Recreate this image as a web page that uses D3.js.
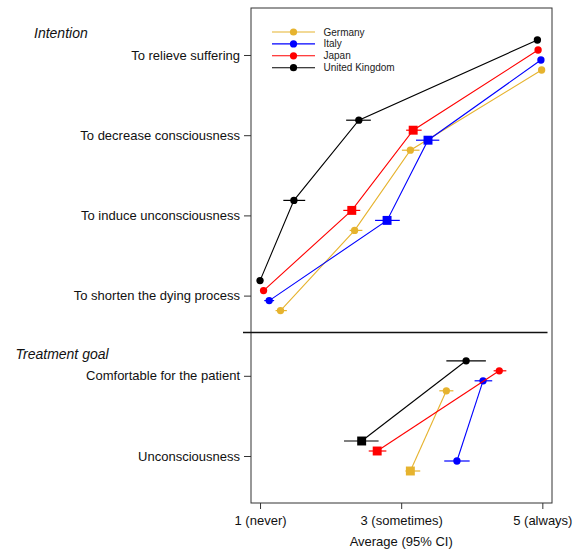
<!DOCTYPE html>
<html>
<head>
<meta charset="utf-8">
<script src="https://cdn.jsdelivr.net/npm/d3@7"></script>
<style>
  body { margin: 0; background: #fff; }
  svg { font-family: "Liberation Sans", Arial, sans-serif; }
</style>
</head>
<body>
<svg id="chart" width="581" height="553"></svg>
<script>
// Categories, top to bottom
const categories = [
  "To relieve suffering",
  "To decrease consciousness",
  "To induce unconsciousness",
  "To shorten the dying process",
  "Comfortable for the patient",
  "Unconsciousness"
];
const sections = [
  { label: "Intention", from: 0, to: 3 },
  { label: "Treatment goal", from: 4, to: 5 }
];

const countries = ["Germany", "Italy", "Japan", "United Kingdom"];
const colors = ["#E6B32E", "#0000FF", "#FF0000", "#000000"];

// Averages and 95% CI, one entry per category
const germanyMean = [4.99, 3.13, 2.34, 1.29, 3.64, 3.13];
const germanyLow  = [4.97, 3.01, 2.27, 1.22, 3.54, 3.06];
const germanyHigh = [5.01, 3.26, 2.45, 1.38, 3.74, 3.27];

const italyMean = [4.98, 3.38, 2.80, 1.13, 4.16, 3.79];
const italyLow  = [4.96, 3.21, 2.63, 1.06, 4.04, 3.61];
const italyHigh = [5.00, 3.54, 2.98, 1.20, 4.29, 3.97];

const japanMean = [4.94, 3.17, 2.30, 1.05, 4.39, 2.66];
const japanLow  = [4.92, 3.07, 2.18, 1.02, 4.31, 2.54];
const japanHigh = [4.96, 3.29, 2.42, 1.08, 4.49, 2.79];

const ukMean = [4.93, 2.40, 1.48, 1.00, 3.92, 2.44];
const ukLow  = [4.91, 2.22, 1.33, 0.98, 3.64, 2.19];
const ukHigh = [4.95, 2.57, 1.64, 1.02, 4.20, 2.68];

// Marker shape per point ("s" = square, "c" = circle)
const germanyShape = ["c", "c", "c", "c", "c", "s"];
const italyShape   = ["c", "s", "s", "c", "c", "c"];
const japanShape   = ["c", "s", "s", "c", "c", "s"];
const ukShape      = ["c", "c", "c", "c", "c", "s"];

const xTicks = [1, 3, 5];
const xTickLabels = ["1 (never)", "3 (sometimes)", "5 (always)"];

const series = [
  { mean: germanyMean, low: germanyLow, high: germanyHigh, shape: germanyShape },
  { mean: italyMean, low: italyLow, high: italyHigh, shape: italyShape },
  { mean: japanMean, low: japanLow, high: japanHigh, shape: japanShape },
  { mean: ukMean, low: ukLow, high: ukHigh, shape: ukShape }
].map((s, j) => ({
  ...s,
  country: countries[j],
  color: colors[j],
  points: categories.map((c, i) => ({
    cat: c, i, mean: s.mean[i], low: s.low[i], high: s.high[i], shape: s.shape[i]
  }))
}));

/*****************/
/*  Dimensions   */
/*****************/
const box = { left: 251, right: 552, top: 8, bottom: 503 };
const svg = d3.select("#chart");

const xScale = d3.scaleLinear().domain([0.872, 5.137]).range([box.left, box.right]);
const yScale = d3.scalePoint().domain(categories).range([box.top, box.bottom]).padding(0.586);

// vertical dodge between countries, px
const dodge = j => (1.5 - j) * 10;

/*****************/
/*  Axes & box   */
/*****************/
svg.append("rect")
  .attr("x", box.left).attr("y", box.top)
  .attr("width", box.right - box.left).attr("height", box.bottom - box.top)
  .attr("fill", "none").attr("stroke", "#333").attr("stroke-width", 1);

const yAxis = svg.append("g")
  .attr("transform", `translate(${box.left},0)`)
  .call(d3.axisLeft(yScale).tickSize(7).tickPadding(4));
yAxis.select(".domain").remove();
yAxis.selectAll(".tick line").attr("stroke", "#333");
yAxis.selectAll(".tick text")
  .attr("font-size", 13).attr("fill", "#111")
  .attr("font-family", "Liberation Sans, Arial, sans-serif");

const xAxis = svg.append("g")
  .attr("transform", `translate(0,${box.bottom})`)
  .call(d3.axisBottom(xScale).tickValues(xTicks)
    .tickFormat((d, i) => xTickLabels[i]).tickSize(6).tickPadding(7));
xAxis.select(".domain").remove();
xAxis.selectAll(".tick line").attr("stroke", "#333");
xAxis.selectAll(".tick text")
  .attr("font-size", 13).attr("fill", "#111")
  .attr("font-family", "Liberation Sans, Arial, sans-serif");

svg.append("text")
  .attr("x", xScale(3)).attr("y", 546)
  .attr("text-anchor", "middle")
  .attr("font-size", 13).attr("fill", "#111")
  .text("Average (95% CI)");

// divider between the two sections
const step = yScale.step();
const divY = yScale(categories[3]) + step * 0.46;
svg.append("line")
  .attr("x1", 243).attr("x2", 547.5)
  .attr("y1", divY).attr("y2", divY)
  .attr("stroke", "#111").attr("stroke-width", 1.5);

// section headings
svg.selectAll(".section")
  .data(sections)
  .join("text")
    .attr("class", "section")
    .attr("x", d => d.label === "Intention" ? 34 : 15.5)
    .attr("y", d => yScale(categories[d.from]) - 16.5)
    .attr("font-size", 14).attr("font-style", "italic").attr("fill", "#111")
    .text(d => d.label);

/*****************/
/*  Series       */
/*****************/
const lineGen = d3.line()
  .x(d => xScale(d.mean))
  .y(d => d.y);

series.forEach((s, j) => {
  const g = svg.append("g").attr("class", "series");
  const pts = s.points.map(p => ({ ...p, y: yScale(p.cat) + dodge(j) }));

  sections.forEach(sec => {
    g.append("path")
      .datum(pts.filter(p => p.i >= sec.from && p.i <= sec.to))
      .attr("d", lineGen)
      .attr("fill", "none")
      .attr("stroke", s.color)
      .attr("stroke-width", 1.1);
  });

  // CI bars
  g.selectAll(".ci")
    .data(pts)
    .join("line")
      .attr("class", "ci")
      .attr("x1", d => xScale(d.low)).attr("x2", d => xScale(d.high))
      .attr("y1", d => d.y).attr("y2", d => d.y)
      .attr("stroke", s.color).attr("stroke-width", 1.2);

  g.selectAll(".pt")
    .data(pts)
    .join("path")
      .attr("class", "pt")
      .attr("transform", d => `translate(${xScale(d.mean)},${d.y})`)
      .attr("d", d => d.shape === "s"
        ? d3.symbol(d3.symbolSquare, 80)()
        : d3.symbol(d3.symbolCircle, 42)())
      .attr("fill", s.color);
});

/*****************/
/*  Legend       */
/*****************/
const legend = svg.append("g").attr("transform", "translate(272,32)");
const items = legend.selectAll("g")
  .data(series)
  .join("g")
    .attr("transform", (d, i) => `translate(0,${i * 11.9})`);
items.append("line")
  .attr("x1", 0).attr("x2", 43)
  .attr("stroke", d => d.color).attr("stroke-width", 1.1);
items.append("circle")
  .attr("cx", 21.5).attr("r", 3.6)
  .attr("fill", d => d.color);
items.append("text")
  .attr("x", 51.5).attr("dy", "0.35em")
  .attr("font-size", 10).attr("fill", "#222")
  .text(d => d.country);
</script>
</body>
</html>
